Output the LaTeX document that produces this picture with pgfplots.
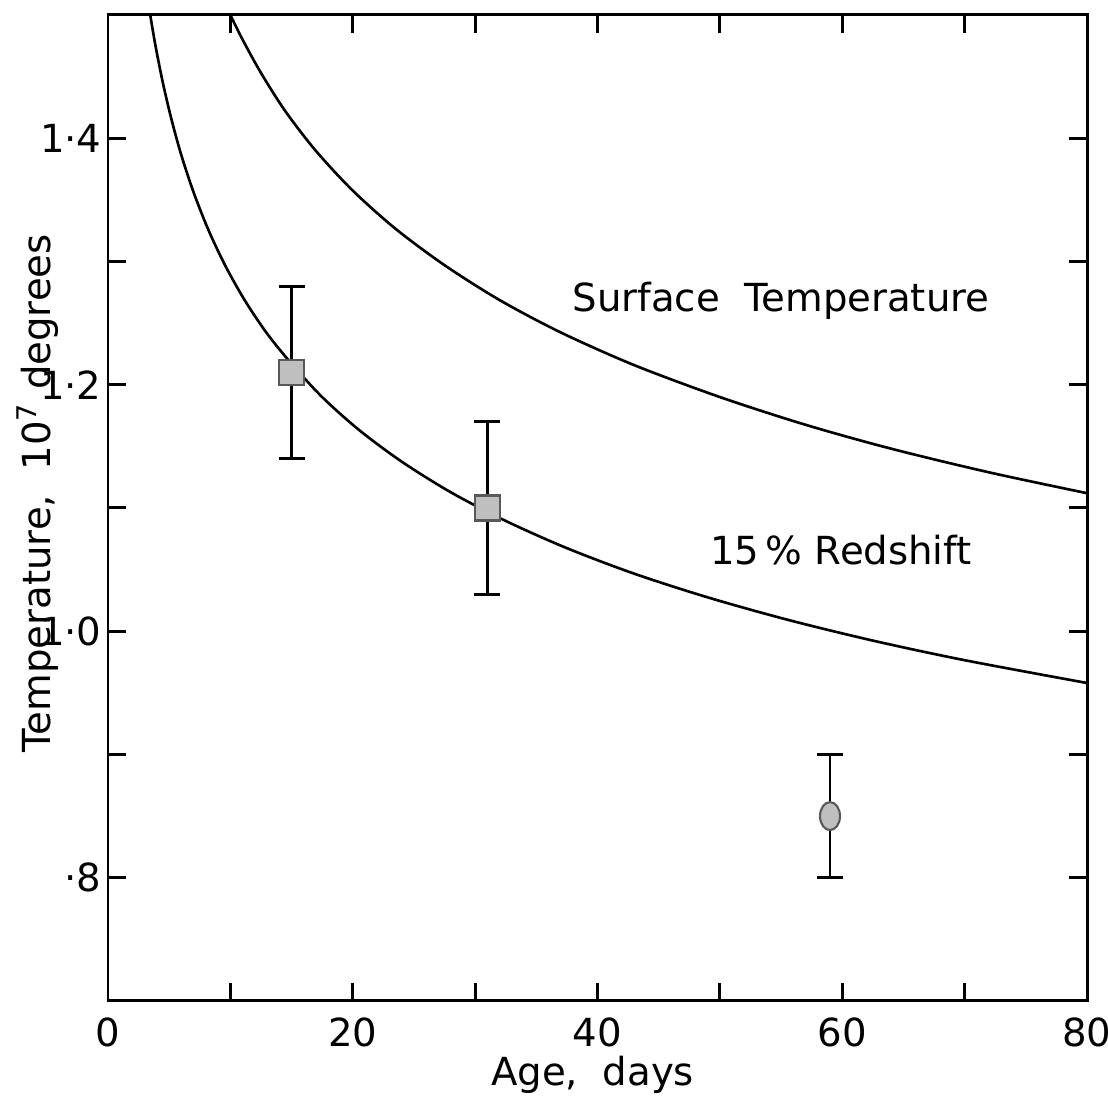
\documentclass[border=0pt]{standalone}
\usepackage{pgfplots}
\pgfplotsset{compat=1.18}
\usepackage{fontspec}
\setmainfont{DejaVu Sans}

\begin{document}
\begin{tikzpicture}
\begin{axis}[
  scale only axis,
  width=97.9mm, height=98.6mm,
  xmin=0, xmax=80, ymin=0.7, ymax=1.5,
  axis line style={line width=0.85pt},
  tick style={line width=0.85pt, black},
  major tick length=1.8mm,
  tick align=inside,
  xtick={0,10,...,80},
  xticklabels={0,,20,,40,,60,,80},
  ytick={0.8,0.9,1.0,1.1,1.2,1.3,1.4},
  yticklabels={·8,,1·0,,1·2,,1·4},
  tick label style={font=\fontsize{11}{13}\selectfont},
  xticklabel style={yshift=-0.4mm},
  yticklabel style={xshift=0.6mm},
  xlabel={Age,\ \ days},
  ylabel={Temperature,\ \ 10\textsuperscript{7}\ degrees},
  every axis x label/.style={at={(axis description cs:0.495,-0.075)}, anchor=center, font=\fontsize{11}{13}\selectfont},
  every axis y label/.style={at={(axis description cs:-0.0715,0.515)}, anchor=center, rotate=90, font=\fontsize{11}{13}\selectfont},
  clip=true,
]
% surface temperature curve
\addplot[black, line width=0.75pt, smooth] coordinates {
  (10.0,1.500) (11.0,1.480) (12.5,1.453) (14.5,1.4218) (17.0,1.3896)
  (20.0,1.3575) (23.5,1.3265) (27.5,1.297) (32.0,1.2687) (37.0,1.2424)
  (43.0,1.2159) (50.0,1.190) (57.0,1.1675) (64.0,1.1481) (72.0,1.1289)
  (80.0,1.112)
};
% 15% redshift curve
\addplot[black, line width=0.75pt, smooth] coordinates {
  (3.45,1.500) (3.9,1.474) (4.5,1.4442) (5.2,1.4148) (6.0,1.386)
  (7.0,1.356) (8.2,1.3257) (9.6,1.2963) (11.2,1.2681) (13.0,1.2415)
  (15.0,1.217) (17.5,1.190) (20.5,1.1634) (24.0,1.1376) (28.0,1.1128)
  (32.5,1.0895) (37.5,1.0674) (43.0,1.0467) (49.0,1.0275) (55.5,1.0094)
  (62.5,0.9924) (70.0,0.9765) (80.0,0.958)
};
% measured points
\addplot[only marks, mark=square*, mark size=1.25mm,
  mark options={fill=gray!50, draw=black!65, line width=0.6pt},
  error bars/.cd, y dir=both, y explicit,
  error bar style={line width=0.8pt, black},
  error mark options={rotate=90, mark size=1.3mm, line width=0.8pt, black}]
  coordinates {
  (15,1.21) +- (0,0.07)
  (31,1.10) +- (0,0.07)
};
\addplot[only marks, mark=*, mark size=1.0mm,
  mark options={fill=gray!50, draw=black!65, line width=0.6pt, yscale=1.4},
  error bars/.cd, y dir=both, y explicit,
  error bar style={line width=0.8pt, black},
  error mark options={rotate=90, mark size=1.3mm, line width=0.8pt, black}]
  coordinates {
  (59,0.85) +- (0,0.05)
};
\node[font=\fontsize{11}{13}\selectfont] at (axis cs:55.0,1.268) {Surface\ \ Temperature};
\node[font=\fontsize{11}{13}\selectfont] at (axis cs:59.9,1.066) {15\,\%\ Redshift};
\end{axis}
\pgfresetboundingbox
\path[use as bounding box] ([xshift=-10.8mm,yshift=-9.7mm]current axis.south west)
  rectangle ([xshift=2.1mm,yshift=1.5mm]current axis.north east);
\end{tikzpicture}
\end{document}
